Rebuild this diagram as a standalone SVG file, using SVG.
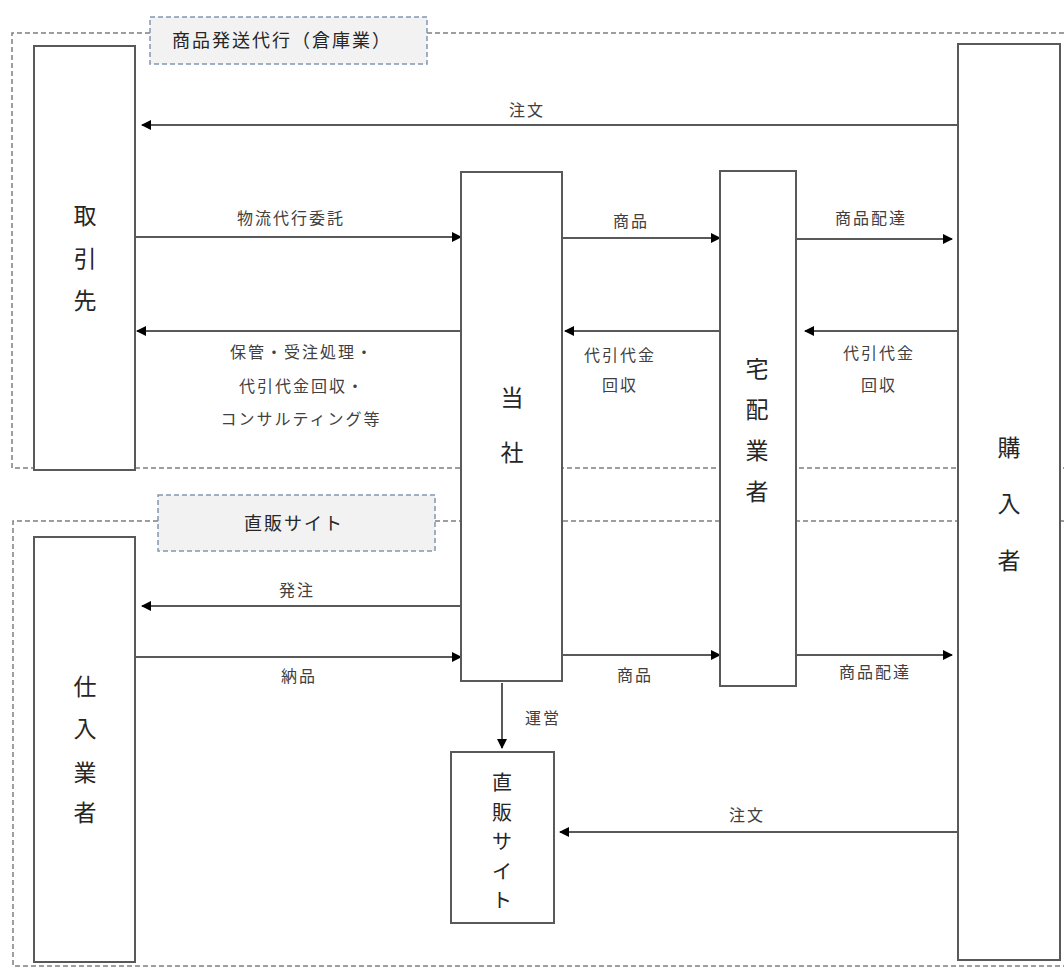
<svg xmlns="http://www.w3.org/2000/svg" width="1064" height="969" viewBox="0 0 1064 969">
<defs>
<marker id="ah" viewBox="0 0 10 10" refX="9" refY="5" markerWidth="5" markerHeight="5" orient="auto" markerUnits="strokeWidth">
<path d="M0,0 L10,5 L0,10 z" fill="#000"/>
</marker>
<style>
.grp{fill:none;stroke:#7f7f7f;stroke-width:1.5;stroke-dasharray:5,3}
.tag{fill:#f2f2f2;stroke:#8497b0;stroke-width:1.5;stroke-dasharray:5,3}
.node{fill:#fff;stroke:#595959;stroke-width:2}
.ln{stroke:#595959;stroke-width:2;fill:none;marker-end:url(#ah)}
.t{font-family:"Noto Sans CJK JP","Noto Sans CJK SC",sans-serif;fill:#404040;text-anchor:middle}
.lab{font-size:16px;letter-spacing:2px}
.nt{font-size:23px;fill:#262626}
.st{font-size:20px;fill:#262626}
.tg{font-size:18px;fill:#262626;letter-spacing:2px}
</style>
</defs>
<g id="groups">
<path class="grp" d="M150,33 L12,33 L12,468 L1070,468"/>
<path class="grp" d="M427,33 L1070,33"/>
<path class="grp" d="M158,521 L13,521 L13,966 L1070,966"/>
<path class="grp" d="M435,521 L1070,521"/>
<g id="tag1"><rect class="tag" x="150" y="17" width="277" height="47"/><text class="t tg" x="282" y="47">商品発送代行（倉庫業）</text></g>
<g id="tag2"><rect class="tag" x="158" y="495" width="277" height="56"/><text class="t tg" x="294" y="530">直販サイト</text></g>
</g>
<g id="connectors">
<line class="ln" x1="958" y1="125" x2="142" y2="125"/>
<line class="ln" x1="135" y1="237" x2="461" y2="237"/>
<line class="ln" x1="461" y1="331" x2="137" y2="331"/>
<line class="ln" x1="562" y1="238" x2="720" y2="238"/>
<line class="ln" x1="720" y1="331" x2="565" y2="331"/>
<line class="ln" x1="796" y1="239" x2="952" y2="239"/>
<line class="ln" x1="958" y1="331" x2="805" y2="331"/>
<line class="ln" x1="461" y1="606" x2="142" y2="606"/>
<line class="ln" x1="135" y1="657" x2="461" y2="657"/>
<line class="ln" x1="562" y1="655" x2="720" y2="655"/>
<line class="ln" x1="796" y1="655" x2="952" y2="655"/>
<line class="ln" x1="502" y1="683" x2="502" y2="748"/>
<line class="ln" x1="958" y1="832" x2="560" y2="832"/>
<g class="t lab">
<text x="527" y="116">注文</text>
<text x="291" y="224">物流代行委託</text>
<text x="302" y="358">保管・受注処理・</text>
<text x="302" y="392">代引代金回収・</text>
<text x="301" y="425">コンサルティング等</text>
<text x="631" y="227">商品</text>
<text x="620" y="361">代引代金</text>
<text x="620" y="391">回収</text>
<text x="871" y="224">商品配達</text>
<text x="879" y="359">代引代金</text>
<text x="879" y="391">回収</text>
<text x="297" y="596">発注</text>
<text x="299" y="682">納品</text>
<text x="635" y="681">商品</text>
<text x="875" y="678">商品配達</text>
<text x="543" y="724">運営</text>
<text x="747" y="821">注文</text>
</g>
</g>
<g id="n-torihiki"><rect class="node" x="34" y="46" width="101" height="424"/>
<text class="t nt" x="85" y="224">取<tspan x="85" dy="43">引</tspan><tspan x="85" dy="42">先</tspan></text></g>
<g id="n-tousha"><rect class="node" x="461" y="172" width="101" height="509"/>
<text class="t nt" x="512" y="406">当<tspan x="512" dy="55">社</tspan></text></g>
<g id="n-takuhai"><rect class="node" x="720" y="171" width="76" height="515"/>
<text class="t nt" x="757" y="377">宅<tspan x="757" dy="41">配</tspan><tspan x="757" dy="41">業</tspan><tspan x="757" dy="41">者</tspan></text></g>
<g id="n-kounyu"><rect class="node" x="958" y="44" width="102" height="916"/>
<text class="t nt" x="1009" y="456">購<tspan x="1009" dy="56">入</tspan><tspan x="1009" dy="57">者</tspan></text></g>
<g id="n-shiire"><rect class="node" x="34" y="537" width="101" height="425"/>
<text class="t nt" x="85" y="695">仕<tspan x="85" dy="42">入</tspan><tspan x="85" dy="44">業</tspan><tspan x="85" dy="40">者</tspan></text></g>
<g id="n-site"><rect class="node" x="451" y="752" width="103" height="171"/>
<text class="t st" x="502" y="790">直<tspan x="502" dy="29.5">販</tspan><tspan x="502" dy="29.5">サ</tspan><tspan x="502" dy="29.5">イ</tspan><tspan x="502" dy="29.5">ト</tspan></text></g>
</svg>
